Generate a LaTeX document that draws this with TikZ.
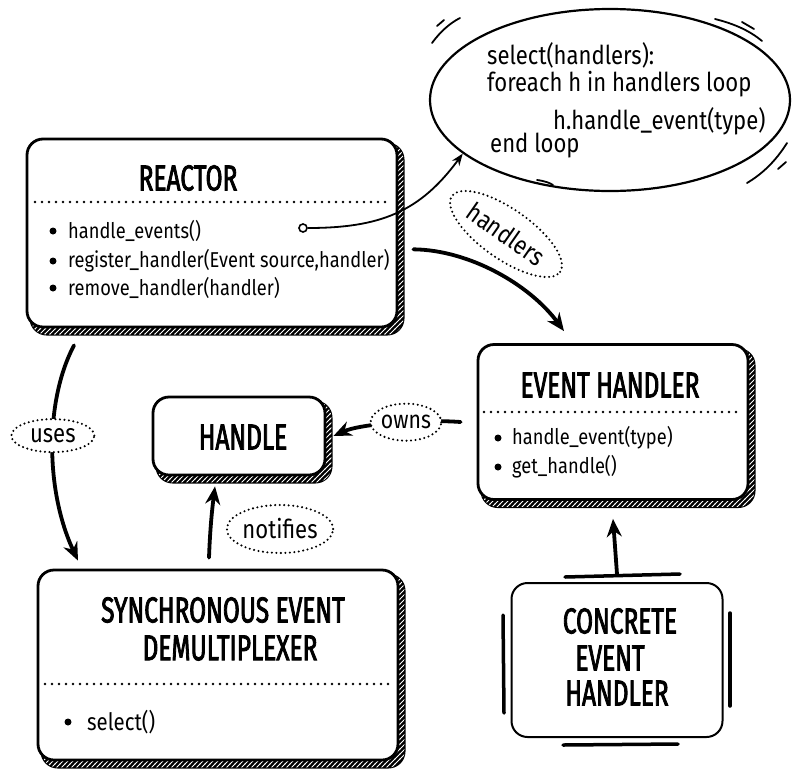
\documentclass[tikz,border=0pt]{standalone}
\usepackage{fontspec}
\setmainfont{Fira Sans}
\newfontfamily\titlefont[FakeStretch=0.68,FakeBold=2.2]{Fira Sans}
\newfontfamily\handfont[FakeStretch=0.85]{Fira Sans}
\usetikzlibrary{shapes.geometric,arrows.meta,patterns,calc}
\pgfdeclarelayer{bg}
\pgfsetlayers{bg,main}
\pgfdeclarepatternformonly{hatch}{\pgfqpoint{-1pt}{-1pt}}{\pgfqpoint{6pt}{6pt}}{\pgfqpoint{5pt}{5pt}}{%
  \pgfsetlinewidth{0.9pt}%
  \pgfpathmoveto{\pgfqpoint{-0.5pt}{-0.5pt}}%
  \pgfpathlineto{\pgfqpoint{5.5pt}{5.5pt}}%
  \pgfusepath{stroke}}
\newcommand{\shbox}[1]{%
  \begin{pgfonlayer}{bg}
  \draw[line width=2.2pt, rounded corners=16pt, fill=black] ([xshift=5pt,yshift=-6pt]#1.north west) rectangle ([xshift=5pt,yshift=-6pt]#1.south east);
  \fill[rounded corners=16pt, pattern=hatch, pattern color=white] ([xshift=5pt,yshift=-6pt]#1.north west) rectangle ([xshift=5pt,yshift=-6pt]#1.south east);
  \end{pgfonlayer}}
\begin{document}
\begin{tikzpicture}[x=1pt,y=-1pt,
  box/.style={draw, line width=2.8pt, rounded corners=16pt, fill=white, inner sep=0pt},
  ttl/.style={font=\titlefont\fontsize{36}{38}\selectfont, inner sep=0pt},
  itm/.style={font=\handfont\fontsize{21.5}{24}\selectfont, anchor=west, inner sep=0pt},
  code/.style={font=\handfont\fontsize{26}{28}\selectfont, anchor=west, inner sep=0pt},
  bul/.style={circle, fill, inner sep=0pt, minimum size=7pt},
  sep/.style={line width=2.6pt, line cap=round, dash pattern=on 0pt off 7pt},
  lbl/.style={ellipse, fill=white, draw, line width=2.3pt, line cap=round, dash pattern=on 0pt off 4.5pt, inner sep=0pt, font=\handfont\fontsize{26}{28}\selectfont},
  bigarrow/.style={line width=3.8pt, line cap=round, -{Stealth[length=18pt,width=15pt]}},
  thinarrow/.style={line width=1.8pt, -{Stealth[length=12pt,width=9pt]}},
  sketch/.style={line width=1.8pt, line cap=round}
]
\useasboundingbox (0,0) rectangle (792,769);

% ---- Reactor ----
\node[box, minimum width=370pt, minimum height=188pt] (reactor) at (212,233) {};
\shbox{reactor}
\node[ttl] (rt) at (188,178) {REACTOR};
\draw[sep] (35,202) -- (392,202);
\node[bul] (rb1) at (53,231) {};
\node[itm] (ri1) at (68,231) {handle\_events()};
\node[bul] (rb2) at (53,261) {};
\node[itm] (ri2) at (68,261) {register\_handler(Event source,handler)};
\node[bul] (rb3) at (53,288) {};
\node[itm] (ri3) at (68,288) {remove\_handler(handler)};
\node[circle, draw, line width=1.6pt, fill=white, inner sep=0pt, minimum size=8pt] (hc) at (303,228) {};

% ---- Code ellipse ----
\node[ellipse, draw, line width=2.2pt, minimum width=360pt, minimum height=182pt] (ell) at (610,100) {};
\node[code] (c1) at (487,55) {select(handlers):};
\node[code] (c2) at (487,84) {foreach h in handlers loop};
\node[code] (c3) at (553,121) {h.handle\_event(type)};
\node[code] (c4) at (490,146) {end loop};
\draw[sketch] (432,43) .. controls (440,32) and (450,23) .. (460,18);
\draw[sketch] (437,26) -- (444,20);
\draw[sketch] (715,19) .. controls (735,24) and (750,31) .. (762,41);
\draw[sketch] (742,22) -- (754,29);
\draw[sketch] (787,143) .. controls (775,162) and (762,174) .. (747,183);
\draw[sketch] (786,162) -- (778,169);
\draw[sketch] (537,180) .. controls (545,181) and (550,183) .. (553,185);

% ---- Event Handler ----
\node[box, minimum width=270pt, minimum height=155pt] (eh) at (613,422) {};
\shbox{eh}
\node[ttl] (eht) at (610,385) {EVENT HANDLER};
\draw[sep] (484,412) -- (742,412);
\node[bul] (eb1) at (498,438) {};
\node[itm] (ei1) at (512,438) {handle\_event(type)};
\node[bul] (eb2) at (498,467) {};
\node[itm] (ei2) at (512,467) {get\_handle()};

% ---- Handle ----
\node[box, minimum width=172pt, minimum height=78pt] (handle) at (239,436) {};
\shbox{handle}
\node[ttl] (ht) at (243,437) {HANDLE};

% ---- Synchronous Event Demultiplexer ----
\node[box, minimum width=360pt, minimum height=190pt] (sync) at (218,665) {};
\shbox{sync}
\node[ttl] (st1) at (223,610) {SYNCHRONOUS EVENT};
\node[ttl] (st2) at (230,648) {DEMULTIPLEXER};
\draw[sep] (45,684) -- (392,684);
\node[bul] (sb1) at (68,722) {};
\node[itm, font=\handfont\fontsize{24}{26}\selectfont] (si1) at (87,722) {select()};

% ---- Concrete Event Handler ----
\node[box, line width=2pt, minimum width=211pt, minimum height=154pt] (ce) at (617,660) {};
\node[ttl] (ct1) at (620,621) {CONCRETE};
\node[ttl] (ct2) at (610,658) {EVENT};
\node[ttl] (ct3) at (617,693) {HANDLER};
\draw[line width=3.5pt, line cap=round] (503,615) -- (504,713);
\draw[line width=3.5pt, line cap=round] (730,613) -- (730,706);
\draw[line width=3.5pt, line cap=round] (565,577) -- (680,574);
\draw[line width=3.5pt, line cap=round] (563,745) -- (678,744);

% ---- Connectors ----
\draw[thinarrow] (hc) .. controls (380,228) and (420,212) .. (ell.200);
\draw[bigarrow] ([xshift=15pt]reactor.-5) .. controls (470,250) and (530,285) .. ([xshift=-49pt,yshift=12pt]eh.north);
\node[lbl, rotate=-35, minimum width=132pt, minimum height=50pt] (lh) at (506,234) {handlers};
\draw[bigarrow] ([xshift=-16pt]eh.west) .. controls (420,419) and (360,424) .. ([xshift=7pt]handle.east)
  node[lbl, pos=0.4, minimum width=58pt, minimum height=37pt, font=\handfont\fontsize{25}{27}\selectfont] (lo) {owns};
\draw[bigarrow] ([xshift=-138pt,yshift=-17pt]reactor.south) .. controls (45,400) and (45,490) .. ([xshift=-140pt,yshift=8pt]sync.north)
  node[lbl, pos=0.45, minimum width=83pt, minimum height=33pt] (lu) {uses};
\draw[bigarrow] ([xshift=-9pt,yshift=11pt]sync.north) .. controls (210,530) and (212,510) .. ([xshift=-24pt,yshift=-10pt]handle.south);
\node[lbl, minimum width=106pt, minimum height=48pt] (ln) at (280,529) {notifies};
\draw[bigarrow] ([yshift=8pt]ce.north) -- ([yshift=-18pt]eh.south);
\end{tikzpicture}
\end{document}
